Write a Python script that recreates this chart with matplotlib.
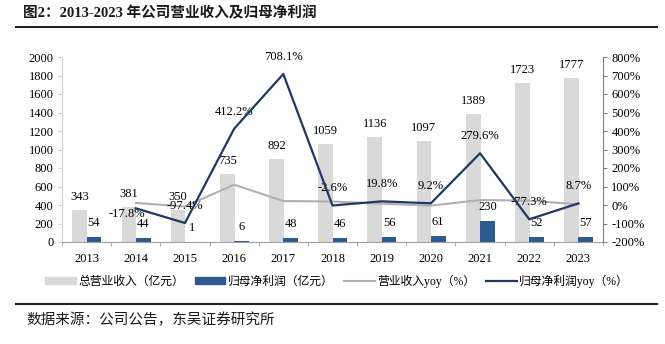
import matplotlib
matplotlib.use('Agg')
import matplotlib.pyplot as plt
from matplotlib.lines import Line2D
from matplotlib.patches import Patch
import numpy as np

# data
years = ['2013', '2014', '2015', '2016', '2017', '2018', '2019', '2020', '2021', '2022', '2023']
revenue = [343, 381, 350, 735, 892, 1059, 1136, 1097, 1389, 1723, 1777]
profit = [54, 44, 1, 6, 48, 46, 56, 61, 230, 52, 57]
revenue_yoy = [None, 11.1, -8.1, 110.0, 21.4, 18.7, 7.3, -3.4, 26.6, 24.0, 3.1]
profit_yoy = [None, -17.8, -97.4, 412.2, 708.1, -2.6, 19.8, 9.2, 279.6, -77.3, 8.7]

serif_cjk = ['Liberation Serif', 'Noto Sans CJK SC']
plt.rcParams['font.family'] = serif_cjk

c_rev = '#d9d9d9'
c_prof = '#2f5a90'
c_rev_line = '#b0b0b0'
c_prof_line = '#1f3864'

fig = plt.figure(figsize=(6.65, 3.44), dpi=100)
ax = fig.add_axes([62 / 665, 1 - 242 / 344, 541 / 665, 185 / 344])
x = np.arange(len(years))
w = 0.3

ax.bar(x - 0.14, revenue, width=w, color=c_rev, zorder=2)
ax.bar(x + 0.15, profit, width=w, color=c_prof, zorder=2)

for xi, v in zip(x, revenue):
    ax.annotate(str(v), (xi - 0.14, v), xytext=(0, 13), textcoords='offset pixels',
                ha='center', va='center', fontsize=9)
for xi, v in zip(x, profit):
    ax.annotate(str(v), (xi + 0.15, v), xytext=(0, 14), textcoords='offset pixels',
                ha='center', va='center', fontsize=9)

ax.set_xlim(-0.5, len(years) - 0.5)
ax.set_ylim(0, 2000)
ax.set_yticks(np.arange(0, 2001, 200))
ax.set_xticks(x)
ax.set_xticklabels(years)
ax.set_xticks(np.arange(-0.5, len(years), 1), minor=True)
ax.tick_params(axis='x', which='major', length=0, pad=8, labelsize=9)
ax.tick_params(axis='x', which='minor', length=3, color='#a0a0a0', direction='out')
ax.tick_params(axis='y', length=3, color='#d0d0d0', labelsize=9, pad=3)
for s in ['top', 'right']:
    ax.spines[s].set_visible(False)
ax.spines['left'].set_color('#d0d0d0')
ax.spines['bottom'].set_color('#a0a0a0')

ax2 = ax.twinx()
yr = [xi for xi, v in zip(x, revenue_yoy) if v is not None]
ax2.plot(yr, [v for v in revenue_yoy if v is not None], color=c_rev_line, lw=1.5, zorder=3)
ax2.plot(yr, [v for v in profit_yoy if v is not None], color=c_prof_line, lw=1.6, zorder=4)

for xi, v in zip(x, profit_yoy):
    if v is None:
        continue
    off = (-9, -6) if xi == 1 else (0, 17)
    ax2.annotate(f'{v:.1f}%', (xi, v), xytext=off, textcoords='offset pixels',
                 ha='center', va='center', fontsize=9)

ax2.set_ylim(-200, 800)
ax2.set_yticks(np.arange(-200, 801, 100))
ax2.set_yticklabels([f'{t}%' for t in range(-200, 801, 100)])
ax2.tick_params(axis='y', length=3, color='#808080', labelsize=9, pad=3)
for s in ['top', 'left', 'bottom']:
    ax2.spines[s].set_visible(False)
ax2.spines['right'].set_color('#808080')

handles = [Patch(color=c_rev), Patch(color=c_prof),
           Line2D([], [], color=c_rev_line, lw=1.5), Line2D([], [], color=c_prof_line, lw=1.6)]
labels = ['总营业收入（亿元）', '归母净利润（亿元）', '营业收入yoy（%）', '归母净利润yoy（%）']
fig.legend(handles, labels, loc='center', bbox_to_anchor=(337 / 665, 1 - 281 / 344), ncol=4,
           frameon=False, fontsize=8.5, handlelength=2.6, handleheight=0.6,
           handletextpad=0.2, columnspacing=0.9)

fig.text(23 / 665, 1 - 13 / 344, '图2：2013-2023 年公司营业收入及归母净利润', ha='left', va='center',
         fontsize=10.5, fontweight='bold', color='#1a1a1a')
fig.add_artist(Line2D([16 / 665, 657 / 665], [1 - 27 / 344] * 2, color='#222222', lw=1.5))
fig.add_artist(Line2D([16 / 665, 657 / 665], [1 - 304 / 344] * 2, color='#222222', lw=1.5))
fig.text(26 / 665, 1 - 320 / 344, '数据来源：公司公告，东吴证券研究所', ha='left', va='center',
         fontsize=10.5, color='#1a1a1a', family=['Noto Sans CJK SC'])

fig.savefig('out.png', dpi=100)
